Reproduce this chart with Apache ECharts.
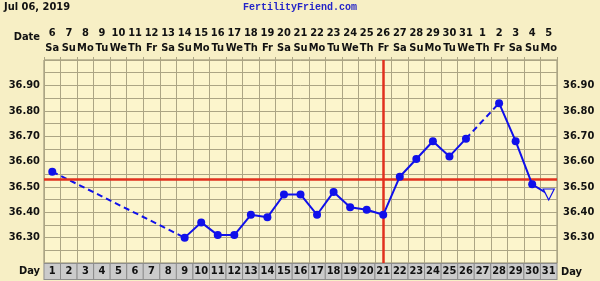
<!DOCTYPE html>
<html>
<head>
<meta charset="utf-8">
<script src="https://cdn.jsdelivr.net/npm/echarts@6/dist/echarts.min.js"></script>
<style>
  html, body { margin: 0; padding: 0; background: #f7efc5; }
  #chart { width: 600px; height: 281px; }
</style>
</head>
<body>
<div id="chart"></div>
<script>
// Cycle days, calendar dates and weekdays
const cycleDays = ['1','2','3','4','5','6','7','8','9','10','11','12','13','14','15','16','17','18','19','20','21','22','23','24','25','26','27','28','29','30','31'];
const dates = ['6','7','8','9','10','11','12','13','14','15','16','17','18','19','20','21','22','23','24','25','26','27','28','29','30','31','1','2','3','4','5'];
const weekdays = ['Sa','Su','Mo','Tu','We','Th','Fr','Sa','Su','Mo','Tu','We','Th','Fr','Sa','Su','Mo','Tu','We','Th','Fr','Sa','Su','Mo','Tu','We','Th','Fr','Sa','Su','Mo'];

// Basal body temperature (°C); null = no reading that day
const temps = [36.56, null, null, null, null, null, null, null, 36.30, 36.36, 36.31, 36.31, 36.39, 36.38, 36.47, 36.47, 36.39, 36.48, 36.42, 36.41, 36.39, 36.54, 36.61, 36.68, 36.62, 36.69, null, 36.83, 36.68, 36.51, 36.47];

// Coverline and ovulation day
const coverline = 36.535;
const ovulationDay = '21';
const openMarkerDay = '31';

const FONT = "'DejaVu Sans Condensed', 'DejaVu Sans', sans-serif";
const BLUE = '#1010ea';
const RED = '#e2301e';
const GRID = '#aca584';

// Dashed connectors across the days with no reading
const gapSegments = [];
for (let i = 0; i < temps.length; i++) {
  if (temps[i] !== null && temps[i + 1] === null) {
    let j = i + 1;
    while (j < temps.length && temps[j] === null) j++;
    if (j < temps.length) gapSegments.push([i, j]);
  }
}
const gapSeries = gapSegments.map(([a, b]) => {
  const d = temps.map(() => null);
  d[a] = temps[a];
  d[b] = temps[b];
  return {
    type: 'line', data: d, connectNulls: true, symbol: 'none', silent: true, z: 2,
    lineStyle: { color: BLUE, width: 2, type: [6, 4] }
  };
});

const mainData = temps.map((v, i) => {
  if (cycleDays[i] === openMarkerDay && v !== null) {
    return {
      value: v, symbol: 'triangle', symbolRotate: 180, symbolSize: 11,
      itemStyle: { color: '#fcf5cc', borderColor: BLUE, borderWidth: 1.2 }
    };
  }
  return v;
});

const isTenth = v => Math.abs(Math.round(v * 100) % 10) === 0;
const yLabel = v => {
  const r = Math.round(v * 100) / 100;
  if (!isTenth(r) || r <= 36.2 + 1e-6 || r >= 37.0 - 1e-6) return '';
  return r.toFixed(2);
};

const chart = echarts.init(document.getElementById('chart'), null, { renderer: 'canvas' });
chart.setOption({
  animation: false,
  backgroundColor: '#f7efc5',
  textStyle: { fontFamily: FONT },
  grid: {
    left: 44, right: 43, top: 60, bottom: 18,
    show: true, backgroundColor: '#fcf5cc', borderColor: '#8c866c', borderWidth: 1
  },
  xAxis: [
    {
      type: 'category', data: cycleDays, position: 'bottom', boundaryGap: true,
      axisLine: { show: false }, axisTick: { show: false },
      splitLine: { show: true, interval: 0, lineStyle: { color: GRID, width: 1 } },
      axisLabel: {
        interval: 0, margin: 1, hideOverlap: false,
        fontFamily: FONT, fontWeight: 'bold', fontSize: 11, color: '#111',
        backgroundColor: '#cbcbcb', borderColor: '#8e8e8e', borderWidth: 1,
        width: 15.6, height: 15, lineHeight: 15, align: 'center', verticalAlign: 'top'
      }
    },
    {
      type: 'category', data: dates, position: 'top', boundaryGap: true,
      axisLine: { show: false },
      axisTick: { show: true, interval: 0, length: 3, lineStyle: { color: GRID } },
      axisLabel: {
        interval: 0, margin: 4, hideOverlap: false,
        fontFamily: FONT, fontWeight: 'bold', fontSize: 11, color: '#111', lineHeight: 15,
        formatter: (v, i) => v + '\n' + weekdays[i]
      }
    }
  ],
  yAxis: [
    {
      type: 'value', min: 36.2, max: 37.0, interval: 0.05, position: 'left',
      axisLine: { show: false }, axisTick: { show: false },
      splitLine: { show: true, lineStyle: { color: GRID, width: 1 } },
      axisLabel: { formatter: yLabel, fontFamily: FONT, fontWeight: 'bold', fontSize: 11, color: '#111', margin: 4 }
    },
    {
      type: 'value', min: 36.2, max: 37.0, interval: 0.05, position: 'right',
      axisLine: { show: false }, axisTick: { show: false }, splitLine: { show: false },
      axisLabel: { formatter: yLabel, fontFamily: FONT, fontWeight: 'bold', fontSize: 11, color: '#111', margin: 6 }
    }
  ],
  series: [
    ...gapSeries,
    {
      type: 'line', data: mainData, connectNulls: false, z: 4,
      symbol: 'circle', symbolSize: 8,
      lineStyle: { color: BLUE, width: 2 },
      itemStyle: { color: BLUE },
      markLine: {
        silent: true, symbol: 'none', label: { show: false }, z: 3,
        lineStyle: { color: RED, width: 2.5, type: 'solid' },
        data: [{ yAxis: coverline }, { xAxis: ovulationDay }]
      }
    }
  ],
  graphic: [
    { type: 'text', left: 4, top: 2, style: { text: 'Jul 06, 2019', font: "bold 11px " + FONT, fill: '#111' } },
    { type: 'text', x: 300, y: 2, style: { text: 'FertilityFriend.com', font: "bold 10px 'Liberation Mono', monospace", fill: '#2424c8', align: 'center' } },
    { type: 'text', x: 40, y: 37, style: { text: 'Date', font: "bold 11px " + FONT, fill: '#111', align: 'right', verticalAlign: 'middle' } },
    { type: 'text', x: 40, y: 271, style: { text: 'Day', font: "bold 11px " + FONT, fill: '#111', align: 'right', verticalAlign: 'middle' } },
    { type: 'text', x: 561, y: 272, style: { text: 'Day', font: "bold 11px " + FONT, fill: '#111', align: 'left', verticalAlign: 'middle' } }
  ]
});
</script>
</body>
</html>
